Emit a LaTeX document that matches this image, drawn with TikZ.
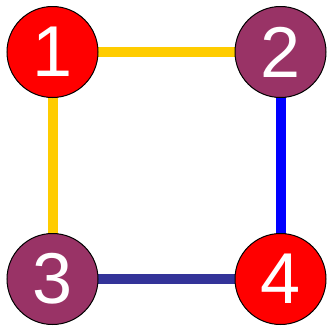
\documentclass[tikz,border=0pt]{standalone}
\usepackage{fontspec}
\setmainfont{Liberation Sans}
\usetikzlibrary{backgrounds}
\definecolor{cred}{HTML}{FF0000}
\definecolor{cpurple}{HTML}{993366}
\definecolor{cyellow}{HTML}{FFCC00}
\definecolor{cblue}{HTML}{0000FF}
\definecolor{cnavy}{HTML}{333399}
\tikzset{
  vert/.style={circle, draw=black, line width=1pt, minimum size=91pt, inner sep=0pt,
    text=white, font=\fontsize{72}{72}\selectfont},
  edgeline/.style={line width=10pt}
}
\begin{document}
\begin{tikzpicture}[x=1pt,y=-1pt]
\useasboundingbox (0,0) rectangle (329,327);
\node[vert, fill=cred] (n1) at (52.5,52) {1};
\node[vert, fill=cpurple] (n2) at (280.5,52) {2};
\node[vert, fill=cpurple] (n3) at (52.5,279) {3};
\node[vert, fill=cred] (n4) at (280.5,279) {4};
\begin{scope}[on background layer]
\draw[edgeline, cyellow] (n1.center) -- (n2.center);
\draw[edgeline, cyellow] (n1.center) -- (n3.center);
\draw[edgeline, cblue] (n2.center) -- (n4.center);
\draw[edgeline, cnavy] (n3.center) -- (n4.center);
\end{scope}
\end{tikzpicture}
\end{document}
